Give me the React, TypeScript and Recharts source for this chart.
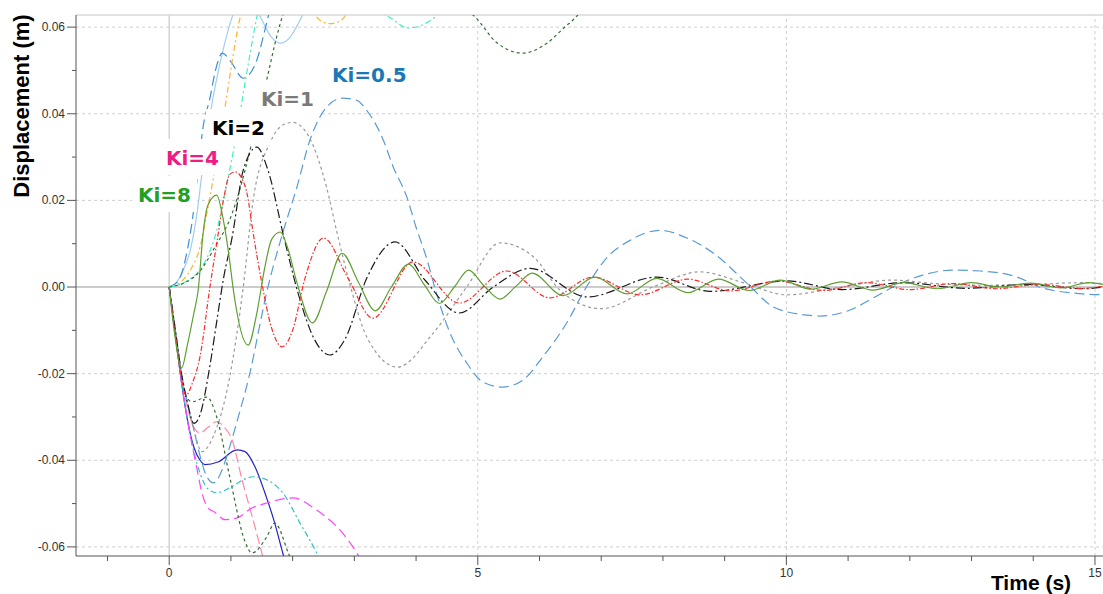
import React from 'react';
import { LineChart, Line, XAxis, YAxis, ReferenceLine } from 'recharts';

// axis ticks / grid
const X_TICKS = [-1, 0, 1, 2, 3, 4, 5, 6, 7, 8, 9, 10, 11, 12, 13, 14, 15];
const X_LABELS = [0, 5, 10, 15];
const Y_TICKS = [-0.06, -0.05, -0.04, -0.03, -0.02, -0.01, 0, 0.01, 0.02, 0.03, 0.04, 0.05, 0.06];
const Y_LABELS = [-0.06, -0.04, -0.02, 0, 0.02, 0.04, 0.06];
const X_GRID = [5, 10, 15];
const Y_GRID = [-0.06, -0.04, -0.02, 0.02, 0.04, 0.06];
const X_DOMAIN = [-1.51, 15.13];
const Y_DOMAIN = [-0.0621, 0.0628];

// Ki = 8
const KI8_T = [0, 0.08, 0.2, 0.3, 0.4, 0.47, 0.55, 0.63, 0.77, 0.87, 0.98, 1.04, 1.28, 1.42, 1.55, 1.66, 1.8, 1.92, 2.07, 2.32, 2.55, 2.8, 3.07, 3.34, 3.6, 3.88, 4.13, 4.38, 4.62, 4.85, 5.1, 5.36, 5.62, 5.88, 6.38, 6.9, 7.42, 7.9, 8.4, 8.9, 9.4, 9.9, 10.4, 10.9, 11.4, 11.9, 12.45, 13.0, 13.45, 13.95, 14.45, 14.9, 15.13];
const KI8_V = [0, -0.010, -0.0187, -0.013, -0.006, -0.0007, 0.0125, 0.019, 0.0212, 0.016, 0.006, -0.0007, -0.0134, -0.006, 0.0046, 0.011, 0.0127, 0.009, 0.001, -0.0083, -0.001, 0.0078, 0.001, -0.0055, 0.0, 0.0053, 0.0006, -0.0038, 0.0, 0.0039, 0.0003, -0.0028, 0.0002, 0.0032, -0.002, 0.0023, -0.0016, 0.002, -0.0013, 0.0018, -0.0008, 0.0016, -0.0005, 0.0012, -0.0007, 0.001, -0.0004, 0.001, 0.0, 0.0009, -0.0002, 0.001, 0.0006];

// Ki = 4
const KI4_T = [0, 0.1, 0.2, 0.27, 0.38, 0.5, 0.66, 0.78, 0.9, 0.98, 1.07, 1.18, 1.26, 1.36, 1.5, 1.65, 1.83, 2.0, 2.2, 2.5, 2.9, 3.3, 3.95, 4.7, 5.47, 6.17, 6.87, 7.63, 8.4, 9.1, 9.85, 10.6, 11.3, 12.0, 12.7, 13.4, 14.1, 14.8, 15.13];
const KI4_V = [0, -0.011, -0.021, -0.025, -0.022, -0.016, 0.0, 0.011, 0.0217, 0.026, 0.0266, 0.025, 0.0217, 0.0125, 0.001, -0.009, -0.0138, -0.010, 0.002, 0.0113, 0.002, -0.0072, 0.0058, -0.0037, 0.0037, -0.0025, 0.0023, -0.0018, 0.0018, -0.0009, 0.0014, -0.0008, 0.001, -0.0006, 0.0008, -0.0004, 0.0006, -0.0003, 0.0002];

// Ki = 2
const KI2_T = [0, 0.1, 0.2, 0.3, 0.4, 0.5, 0.65, 0.77, 0.88, 1.02, 1.2, 1.42, 1.6, 1.85, 2.1, 2.35, 2.6, 2.85, 3.2, 3.66, 4.15, 4.7, 5.25, 5.85, 6.77, 7.9, 8.77, 10.0, 10.9, 11.9, 12.9, 13.9, 14.8, 15.13];
const KI2_V = [0, -0.010, -0.020, -0.027, -0.0315, -0.0295, -0.019, -0.008, 0.002, 0.0115, 0.027, 0.0323, 0.027, 0.012, -0.002, -0.012, -0.0157, -0.012, 0.002, 0.0104, 0.0015, -0.006, 0.0, 0.0043, -0.0023, 0.0023, -0.001, 0.0014, -0.0006, 0.001, -0.0003, 0.0006, -0.0004, 0.0];

// Ki = 1
const KI1_T = [0, 0.1, 0.2, 0.3, 0.4, 0.53, 0.71, 0.98, 1.2, 1.36, 1.63, 1.84, 2.0, 2.23, 2.55, 2.72, 2.94, 3.2, 3.7, 4.28, 4.82, 5.36, 5.9, 6.33, 7.0, 7.84, 8.6, 9.3, 10.0, 10.9, 11.7, 12.4, 13.2, 14.0, 14.8, 15.13];
const KI1_V = [0, -0.01, -0.02, -0.027, -0.033, -0.038, -0.0346, -0.0208, 0.0, 0.02, 0.0332, 0.0374, 0.038, 0.0355, 0.023, 0.0125, 0.0, -0.0115, -0.0185, -0.0106, 0.0, 0.0102, 0.007, -0.0007, -0.005, 0.0, 0.0035, 0.001, -0.0018, 0.0, 0.0016, 0.0008, 0.0004, 0.0006, 0.001, 0.0008];

// Ki = 0.5
const KI05_T = [0, 0.1, 0.2, 0.3, 0.4, 0.5, 0.6, 0.72, 0.85, 0.95, 1.1, 1.28, 1.6, 1.84, 2.07, 2.28, 2.44, 2.64, 2.8, 3.04, 3.2, 3.47, 3.63, 3.85, 4.0, 4.18, 4.3, 4.55, 4.82, 5.08, 5.4, 5.73, 6.06, 6.44, 6.76, 7.1, 7.47, 7.95, 8.39, 8.82, 9.36, 9.79, 10.33, 10.55, 11.03, 11.41, 11.8, 12.22, 12.7, 13.14, 13.74, 14.1, 14.65, 15.13];
const KI05_V = [0, -0.01, -0.02, -0.027, -0.033, -0.039, -0.0435, -0.0452, -0.0425, -0.0383, -0.031, -0.0215, 0.0, 0.0125, 0.0231, 0.0339, 0.0392, 0.0427, 0.0436, 0.0431, 0.0408, 0.0339, 0.0277, 0.0208, 0.0138, 0.0062, 0.0, -0.0106, -0.0175, -0.0219, -0.0231, -0.0215, -0.016, -0.0083, 0.0, 0.0069, 0.0108, 0.0131, 0.0113, 0.0078, 0.0009, -0.0046, -0.0065, -0.0067, -0.0053, -0.0025, 0.0005, 0.0028, 0.0039, 0.0037, 0.0023, 0.0, -0.0014, -0.0018];

// diverging runs, upper group
const LB_T = [0, 0.1, 0.2, 0.35, 0.45, 0.52, 0.62, 0.74, 0.9, 1.02, 1.15, 1.3, 1.47, 1.65, 1.8, 1.96, 2.12, 2.3, 2.6];
const LB_V = [0, 0.0008, 0.003, 0.009, 0.017, 0.025, 0.036, 0.046, 0.0563, 0.0623, 0.066, 0.066, 0.0625, 0.0578, 0.0563, 0.0577, 0.0616, 0.067, 0.076];
const BD_T = [0, 0.15, 0.3, 0.38, 0.45, 0.55, 0.66, 0.75, 0.86, 1.0, 1.2, 1.42, 1.55, 1.7, 2.0];
const BD_V = [0, 0.0015, 0.009, 0.016, 0.0247, 0.037, 0.0436, 0.05, 0.054, 0.052, 0.0482, 0.0524, 0.0593, 0.068, 0.078];
const OR_T = [0, 0.22, 0.37, 0.5, 0.61, 0.71, 0.82, 0.93, 1.03, 1.15, 1.35, 1.8, 2.2, 2.45, 2.6, 2.78, 3.0, 3.5];
const OR_V = [0, 0.0016, 0.0046, 0.0092, 0.017, 0.0247, 0.034, 0.0438, 0.053, 0.0623, 0.069, 0.072, 0.066, 0.0615, 0.0608, 0.0615, 0.066, 0.075];
const AQ_T = [0, 0.3, 0.5, 0.65, 0.77, 0.88, 0.98, 1.1, 1.2, 1.3, 1.42, 1.6, 2.0, 2.5, 3.0, 3.4, 3.57, 3.87, 4.1, 4.3, 4.6];
const AQ_V = [0, 0.0015, 0.004, 0.008, 0.013, 0.02, 0.027, 0.036, 0.0447, 0.053, 0.0623, 0.07, 0.075, 0.072, 0.068, 0.0635, 0.0623, 0.0598, 0.0605, 0.0623, 0.067];
const DGU_T = [0, 0.25, 0.47, 0.74, 1.02, 1.23, 1.35, 1.58, 1.74, 1.84, 2.1, 3.0, 4.0, 4.6, 4.96, 5.3, 5.73, 6.12, 6.44, 6.54, 6.8, 7.2];
const DGU_V = [0, 0.001, 0.0032, 0.0092, 0.017, 0.027, 0.034, 0.0478, 0.0577, 0.0628, 0.072, 0.082, 0.075, 0.066, 0.0623, 0.0565, 0.054, 0.0563, 0.0604, 0.0616, 0.066, 0.074];

// diverging runs, lower group
const DB_T = [0, 0.1, 0.2, 0.3, 0.4, 0.5, 0.58, 0.79, 1.1, 1.23, 1.39, 1.55, 1.71, 1.84, 2.0, 2.2];
const DB_V = [0, -0.011, -0.022, -0.031, -0.037, -0.040, -0.041, -0.0404, -0.0376, -0.038, -0.0415, -0.0475, -0.0545, -0.0614, -0.069, -0.079];
const PK_T = [0, 0.1, 0.2, 0.3, 0.37, 0.5, 0.62, 0.77, 0.9, 1.02, 1.18, 1.36, 1.5, 1.65];
const PK_V = [0, -0.011, -0.021, -0.028, -0.0314, -0.0337, -0.0325, -0.0311, -0.0325, -0.0353, -0.0445, -0.0538, -0.0614, -0.070];
const TL_T = [0, 0.1, 0.2, 0.3, 0.4, 0.5, 0.62, 0.77, 1.0, 1.2, 1.36, 1.58, 1.84, 2.12, 2.39, 2.6];
const TL_V = [0, -0.011, -0.022, -0.031, -0.038, -0.043, -0.0465, -0.0475, -0.0462, -0.0445, -0.0438, -0.0445, -0.0475, -0.0545, -0.0614, -0.068];
const MG_T = [0, 0.1, 0.2, 0.3, 0.45, 0.53, 0.63, 0.74, 0.9, 1.1, 1.34, 1.55, 2.0, 2.39, 2.82, 3.04, 3.25];
const MG_V = [0, -0.011, -0.022, -0.031, -0.042, -0.0475, -0.051, -0.052, -0.0537, -0.0533, -0.051, -0.050, -0.0487, -0.0515, -0.057, -0.0614, -0.067];
const DGL_T = [0, 0.1, 0.2, 0.27, 0.37, 0.61, 0.77, 0.98, 1.23, 1.34, 1.58, 1.71, 1.93, 2.1];
const DGL_V = [0, -0.011, -0.021, -0.025, -0.0265, -0.0254, -0.030, -0.0438, -0.0588, -0.0614, -0.0577, -0.0545, -0.0614, -0.068];

// curve labels (text, colour)
const KI_LABELS = ['Ki=0.5', 'Ki=1', 'Ki=2', 'Ki=4', 'Ki=8'];
const KI_COLORS = ['#1a78b4', '#7a7a7a', '#000000', '#ee1c84', '#22a022'];

const zip = (t: number[], v: number[]) => t.map((x, i) => ({ t: x, v: v[i] }));

const series = [
  { id: 'lb', data: zip(LB_T, LB_V), color: '#a3ccf0', dash: undefined },
  { id: 'bd', data: zip(BD_T, BD_V), color: '#3f8fd2', dash: '10 5' },
  { id: 'or', data: zip(OR_T, OR_V), color: '#ffb22a', dash: '6 3 2 3' },
  { id: 'aq', data: zip(AQ_T, AQ_V), color: '#3ff0c0', dash: '6 3 2 3' },
  { id: 'dgu', data: zip(DGU_T, DGU_V), color: '#336e33', dash: '3 3' },
  { id: 'db', data: zip(DB_T, DB_V), color: '#2424c8', dash: undefined },
  { id: 'pk', data: zip(PK_T, PK_V), color: '#ff88a8', dash: '10 4' },
  { id: 'tl', data: zip(TL_T, TL_V), color: '#2cc4c4', dash: '6 3 2 3' },
  { id: 'mg', data: zip(MG_T, MG_V), color: '#ff44ff', dash: '10 5' },
  { id: 'dgl', data: zip(DGL_T, DGL_V), color: '#336e33', dash: '3 3' },
  { id: 'ki05', data: zip(KI05_T, KI05_V), color: '#5b9bd5', dash: '10 5' },
  { id: 'ki1', data: zip(KI1_T, KI1_V), color: '#9a9a9a', dash: '3 3' },
  { id: 'ki2', data: zip(KI2_T, KI2_V), color: '#1a1a1a', dash: '9 3 2 3' },
  { id: 'ki4', data: zip(KI4_T, KI4_V), color: '#ff2a2a', dash: '5 2 1.5 2' },
  { id: 'ki8', data: zip(KI8_T, KI8_V), color: '#5f9e32', dash: undefined },
];

// label boxes in px (x of text start, baseline, text width)
const labelBoxes = [
  { x: 332, y: 82, w: 75 },
  { x: 261, y: 106, w: 53 },
  { x: 212, y: 135, w: 53 },
  { x: 166, y: 165, w: 53 },
  { x: 138, y: 202, w: 53 },
];

const FONT = '"Liberation Sans", Arial, sans-serif';
const LABEL_FONT = '"DejaVu Sans", Verdana, sans-serif';

const XTick = (props: any) => {
  const { x, y, payload } = props;
  const major = X_LABELS.includes(payload.value);
  return (
    <g>
      <line x1={x} x2={x} y1={y} y2={y + (major ? 9 : 5)} stroke="#555" />
      {major && (
        <text x={x} y={y + 21} textAnchor="middle" fontSize={12} fill="#333" fontFamily={FONT}>
          {payload.value}
        </text>
      )}
    </g>
  );
};

const YTick = (props: any) => {
  const { x, y, payload } = props;
  const major = Y_LABELS.includes(payload.value);
  return (
    <g>
      <line x1={x - (major ? 9 : 4)} x2={x} y1={y} y2={y} stroke="#555" />
      {major && (
        <text x={x - 11} y={y + 4} textAnchor="end" fontSize={12} fill="#333" fontFamily={FONT}>
          {payload.value.toFixed(2)}
        </text>
      )}
    </g>
  );
};

export default function App() {
  return (
    <div style={{ position: 'absolute', left: 0, top: 0, width: 1103, height: 594, background: '#fff' }}>
      <LineChart width={1103} height={594} margin={{ top: 15, right: 0, bottom: 0, left: 0 }}>
        <XAxis
          dataKey="t"
          type="number"
          domain={X_DOMAIN}
          allowDataOverflow
          ticks={X_TICKS}
          interval={0}
          tickSize={0}
          tickMargin={0}
          tick={<XTick />}
          height={38}
          axisLine={{ stroke: '#555' }}
        />
        <YAxis
          type="number"
          domain={Y_DOMAIN}
          allowDataOverflow
          ticks={Y_TICKS}
          interval={0}
          tickSize={0}
          tickMargin={0}
          tick={<YTick />}
          width={76}
          axisLine={{ stroke: '#555' }}
        />
        {X_GRID.map((g) => (
          <ReferenceLine key={'xg' + g} x={g} stroke="#cfcfcf" strokeDasharray="3 3" />
        ))}
        {Y_GRID.map((g) => (
          <ReferenceLine key={'yg' + g} y={g} stroke="#cfcfcf" strokeDasharray="3 3" />
        ))}
        <ReferenceLine x={0} stroke="#d4d4d4" strokeWidth={1.5} />
        <ReferenceLine y={0} stroke="#cccccc" strokeWidth={2} />
        <ReferenceLine y={Y_DOMAIN[1]} stroke="#d8d8d8" strokeWidth={1.5} />
        {series.map((s) => (
          <Line
            key={s.id}
            data={s.data}
            dataKey="v"
            type="monotone"
            stroke={s.color}
            strokeWidth={1.2}
            strokeDasharray={s.dash}
            dot={false}
            activeDot={false}
            isAnimationActive={false}
          />
        ))}
        <text x={29} y={106} transform="rotate(-90, 29, 106)" textAnchor="middle" fontSize={22} fontWeight="bold" fill="#000" fontFamily={FONT}>
          Displacement (m)
        </text>
        <text x={1031} y={590} textAnchor="middle" fontSize={21} fontWeight="bold" fill="#000" fontFamily={FONT}>
          Time (s)
        </text>
      </LineChart>
      {/* curve labels sit on white boxes above the lines */}
      <svg width={1103} height={594} style={{ position: 'absolute', left: 0, top: 0, pointerEvents: 'none' }}>
        {KI_LABELS.map((label, i) => {
          const b = labelBoxes[i];
          return (
            <g key={label}>
              <rect x={b.x - 6} y={b.y - 26} width={b.w + 12} height={36} fill="#fff" />
              <text x={b.x} y={b.y} fontSize={20} fontWeight="bold" fill={KI_COLORS[i]} fontFamily={LABEL_FONT}>
                {label}
              </text>
            </g>
          );
        })}
      </svg>
    </div>
  );
}
